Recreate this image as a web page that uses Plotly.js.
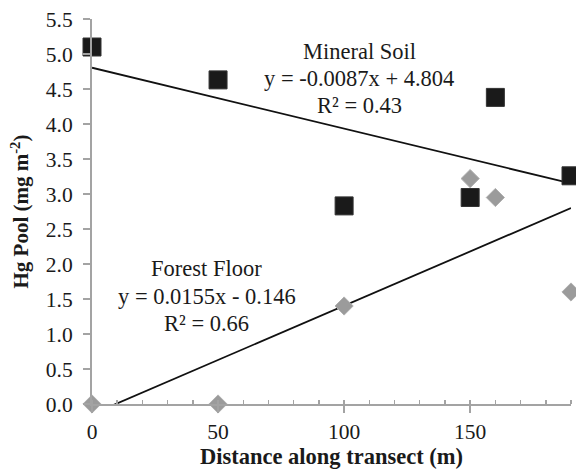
<!DOCTYPE html>
<html>
<head>
<meta charset="utf-8">
<script src="https://cdn.plot.ly/plotly-3.0.1.min.js"></script>
<style>html,body{margin:0;padding:0;background:#fff;}#chart{width:576px;height:472px;}</style>
</head>
<body>
<div id="chart"></div>
<script>
// Data
const distance = [0, 50, 100, 150, 160, 190];
const mineralSoil = [5.10, 4.63, 2.83, 2.95, 4.38, 3.26];
const forestFloor = [0.00, 0.00, 1.40, 3.22, 2.95, 1.60];

// Trendline coefficients as printed on the chart
const mineralFit = {slope: -0.0087, intercept: 4.804};
const forestFit = {slope: 0.0155, intercept: -0.146};
const fitX = [0, 190];

const xTickVals = [0, 50, 100, 150];
const yTickVals = [0, 0.5, 1, 1.5, 2, 2.5, 3, 3.5, 4, 4.5, 5, 5.5];

// Label lines and their anchor (data coords)
const mineralLabel = ['Mineral Soil', 'y = -0.0087x + 4.804', 'R² = 0.43'];
const mineralLabelX = 106;
const mineralLabelY = [5.03, 4.655, 4.27];
const forestLabel = ['Forest Floor', 'y = 0.0155x - 0.146', 'R² = 0.66'];
const forestLabelX = 45.5;
const forestLabelY = [1.93, 1.53, 1.155];

const FONT = '"Liberation Serif", "Times New Roman", Times, serif';
const AXIS = '#a3a3a3';
const TXT = '#1a1a1a';

const fitY = f => fitX.map(x => f.slope * x + f.intercept);

const traces = [
  {x: fitX, y: fitY(mineralFit), mode: 'lines', line: {color: '#111', width: 1.8}, showlegend: false, hoverinfo: 'skip'},
  {x: fitX, y: fitY(forestFit), mode: 'lines', line: {color: '#111', width: 1.8}, showlegend: false, hoverinfo: 'skip'},
  {x: distance, y: forestFloor, mode: 'markers', cliponaxis: false, showlegend: false,
   marker: {symbol: 'diamond', size: 14, color: '#9b9b9b', line: {color: '#b0b0b0', width: 1}}},
  {x: distance, y: mineralSoil, mode: 'markers', cliponaxis: false, showlegend: false,
   marker: {symbol: 'square', size: 18, color: '#1a1a1a', line: {color: '#333', width: 1}}}
];

const annFont = {family: FONT, size: 22.5, color: TXT};
const annotations = [];
mineralLabel.forEach((t, i) => annotations.push({x: mineralLabelX, y: mineralLabelY[i], xref: 'x', yref: 'y',
  showarrow: false, text: t, font: annFont, xanchor: 'center', yanchor: 'middle'}));
forestLabel.forEach((t, i) => annotations.push({x: forestLabelX, y: forestLabelY[i], xref: 'x', yref: 'y',
  showarrow: false, text: t, font: annFont, xanchor: 'center', yanchor: 'middle'}));

const layout = {
  width: 576, height: 472,
  margin: {l: 92, r: 5, t: 19, b: 68},
  paper_bgcolor: '#fff', plot_bgcolor: '#fff',
  font: {family: FONT, color: TXT, size: 21},
  showlegend: false,
  xaxis: {
    range: [0, 190], tickvals: xTickVals, ticktext: xTickVals.map(String),
    showgrid: false, zeroline: false, showline: true, linecolor: AXIS, linewidth: 2,
    ticks: 'outside', ticklen: 7, tickwidth: 1.5, tickcolor: AXIS,
    minor: {dtick: 10, tick0: 0, ticks: 'inside', ticklen: 4, tickwidth: 1.5, tickcolor: AXIS},
    tickfont: {family: FONT, size: 21.5, color: TXT},
    title: {text: '<b>Distance along transect (m)</b>', font: {family: FONT, size: 22.5, color: TXT}, standoff: 3},
    fixedrange: true
  },
  yaxis: {
    range: [0, 5.5], tickvals: yTickVals, ticktext: yTickVals.map(v => v.toFixed(1)),
    showgrid: false, zeroline: false, showline: true, linecolor: AXIS, linewidth: 2,
    ticks: 'outside', ticklen: 7, tickwidth: 1.5, tickcolor: AXIS,
    tickfont: {family: FONT, size: 21.5, color: TXT},
    ticklabelstandoff: 6,
    title: {text: '<b>Hg Pool (mg m<sup>-2</sup>)</b>', font: {family: FONT, size: 21, color: TXT}, standoff: 11},
    fixedrange: true
  },
  annotations: annotations
};

Plotly.newPlot('chart', traces, layout, {displayModeBar: false, staticPlot: true});
</script>
</body>
</html>
